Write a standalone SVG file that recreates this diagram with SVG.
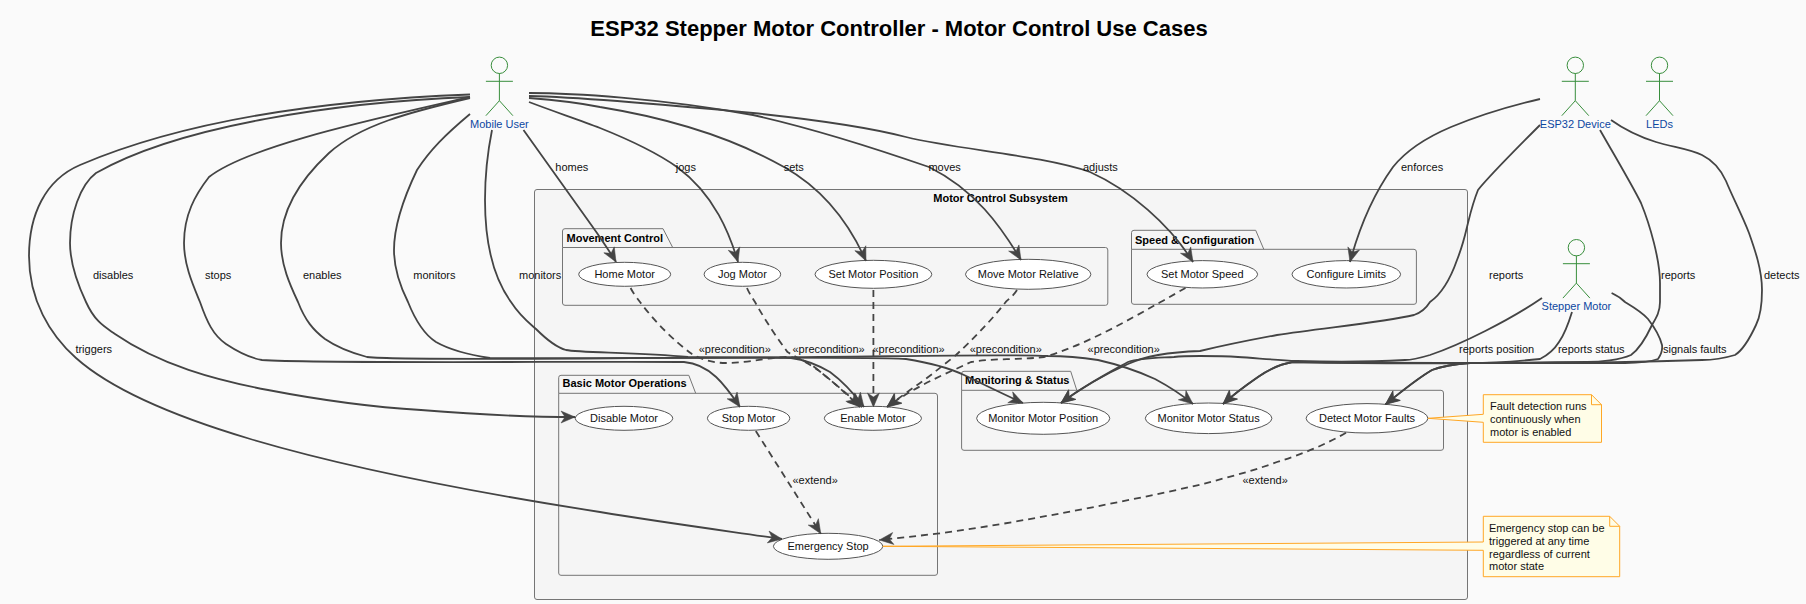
<svg xmlns="http://www.w3.org/2000/svg" width="1806" height="604" viewBox="0 0 1806 604">
<style>
text{font-family:"Liberation Sans",Arial,sans-serif;font-size:11px;fill:#111}
.title{font-size:22px;font-weight:bold;fill:#000;text-anchor:middle}
.b{font-weight:bold;fill:#000}
.m{text-anchor:middle}
.actor *{fill:none;stroke:#388e3c;stroke-width:1}
.actor .head{fill:#e8f5e9}
.actor text{fill:#0d47a1;stroke:none;text-anchor:middle}
.sys{fill:#f5f5f5;stroke:#757575;stroke-width:1}
.pkg{fill:none;stroke:#757575;stroke-width:1}
.uc ellipse{fill:#fff;stroke:#555;stroke-width:1}
.note path{fill:#fffde7;stroke:#ffa726;stroke-width:1}
.note .fold{fill:none}
.l{fill:none;stroke:#444;stroke-width:1.8;marker-end:url(#ah)}
.d{stroke-dasharray:7 5}
</style>
<defs>
<marker id="ah" markerUnits="userSpaceOnUse" markerWidth="18" markerHeight="14" refX="15" refY="7" orient="auto">
<path d="M1,1 L15,7 L1,13 L5,7 Z" fill="#444" stroke="#444" stroke-width="0.5"/>
</marker>
<g id="stick" class="stick">
<circle class="head" cx="0" cy="0" r="8.2"/>
<path d="M0,8 V35.4 M-13.5,16 H13.5 M-13.5,50.4 L0,35.4 L13.5,50.4"/>
</g>
</defs>
<rect width="1806" height="604" fill="#fafafa"/>
<text class="title" x="899" y="36">ESP32 Stepper Motor Controller - Motor Control Use Cases</text>

<g id="motor-control-subsystem">
<rect class="sys" x="534.5" y="189.5" width="933" height="410" rx="2.5"/>
<text class="b m" x="1000.5" y="202">Motor Control Subsystem</text>
</g>
<g id="movement-control">
<path class="pkg" d="M562.5,247.5 V231 Q562.5,228.7 565,228.7 H663 L672.7,247.5 M562.5,247.5 H1105.5 Q1107.8,247.5 1107.8,250 V303 Q1107.8,305.3 1105.5,305.3 H565 Q562.5,305.3 562.5,303 Z"/>
<text class="b" x="566.5" y="241.5">Movement Control</text>
</g>
<g id="speed-configuration">
<path class="pkg" d="M1131.5,249.3 V232.6 Q1131.5,230.3 1134,230.3 H1255.7 L1263.8,249.3 M1131.5,249.3 H1414 Q1416.4,249.3 1416.4,252 V302 Q1416.4,304.3 1414,304.3 H1134 Q1131.5,304.3 1131.5,302 Z"/>
<text class="b" x="1135" y="243.5">Speed &amp; Configuration</text>
</g>
<g id="basic-motor-operations">
<path class="pkg" d="M558.7,393.3 V377.6 Q558.7,375.3 561,375.3 H688.8 L695.7,393.3 M558.7,393.3 H935 Q937.5,393.3 937.5,396 V573 Q937.5,575.3 935,575.3 H561 Q558.7,575.3 558.7,573 Z"/>
<text class="b" x="562.5" y="387">Basic Motor Operations</text>
</g>
<g id="monitoring-status">
<path class="pkg" d="M961.6,390.3 V373.6 Q961.6,371.3 964,371.3 H1070.7 L1076.8,390.3 M961.6,390.3 H1441 Q1443.5,390.3 1443.5,393 V448 Q1443.5,450.3 1441,450.3 H964 Q961.6,450.3 961.6,448 Z"/>
<text class="b" x="965" y="384">Monitoring &amp; Status</text>
</g>

<g id="home-motor" class="uc"><ellipse cx="624.7" cy="274.3" rx="46" ry="12"/><text class="m" x="624.7" y="278">Home Motor</text></g>
<g id="jog-motor" class="uc"><ellipse cx="742.4" cy="274.3" rx="38.3" ry="12"/><text class="m" x="742.4" y="278">Jog Motor</text></g>
<g id="set-motor-position" class="uc"><ellipse cx="873.4" cy="274.3" rx="58.4" ry="14"/><text class="m" x="873.4" y="278">Set Motor Position</text></g>
<g id="move-motor-relative" class="uc"><ellipse cx="1028.2" cy="274.3" rx="62.7" ry="15"/><text class="m" x="1028.2" y="278">Move Motor Relative</text></g>
<g id="set-motor-speed" class="uc"><ellipse cx="1202.3" cy="274.3" rx="55.3" ry="13.7"/><text class="m" x="1202.3" y="278">Set Motor Speed</text></g>
<g id="configure-limits" class="uc"><ellipse cx="1346.3" cy="274.3" rx="54.3" ry="13.7"/><text class="m" x="1346.3" y="278">Configure Limits</text></g>
<g id="disable-motor" class="uc"><ellipse cx="624" cy="418.3" rx="48.8" ry="12"/><text class="m" x="624" y="421.5">Disable Motor</text></g>
<g id="stop-motor" class="uc"><ellipse cx="748.6" cy="418.3" rx="41.2" ry="12"/><text class="m" x="748.6" y="421.5">Stop Motor</text></g>
<g id="enable-motor" class="uc"><ellipse cx="872.9" cy="418.3" rx="48.6" ry="12"/><text class="m" x="872.9" y="421.5">Enable Motor</text></g>
<g id="emergency-stop" class="uc"><ellipse cx="828.1" cy="546.3" rx="54.7" ry="13"/><text class="m" x="828.1" y="549.5">Emergency Stop</text></g>
<g id="monitor-motor-position" class="uc"><ellipse cx="1043.2" cy="418.3" rx="66.6" ry="16"/><text class="m" x="1043.2" y="421.5">Monitor Motor Position</text></g>
<g id="monitor-motor-status" class="uc"><ellipse cx="1208.6" cy="418.3" rx="63.3" ry="15.3"/><text class="m" x="1208.6" y="421.5">Monitor Motor Status</text></g>
<g id="detect-motor-faults" class="uc"><ellipse cx="1367" cy="418.3" rx="60.9" ry="14.7"/><text class="m" x="1367" y="421.5">Detect Motor Faults</text></g>

<g id="mobile-user" class="actor"><use href="#stick" x="499.4" y="65.3"/><text x="499.4" y="128">Mobile User</text></g>
<g id="esp32-device" class="actor"><use href="#stick" x="1575.3" y="65.3"/><text x="1575.3" y="128">ESP32 Device</text></g>
<g id="leds" class="actor"><use href="#stick" x="1659.5" y="65.3"/><text x="1659.5" y="128">LEDs</text></g>
<g id="stepper-motor" class="actor"><use href="#stick" x="1576.4" y="247.7"/><text x="1576.4" y="310">Stepper Motor</text></g>

<g id="note-faults" class="note">
<path d="M1483.3,394.7 V414.3 L1428,418.3 L1483.3,422.3 V442.3 H1601.5 V404.7 L1591.5,394.7 Z"/>
<path class="fold" d="M1591.5,394.7 V404.7 H1601.5"/>
<text x="1490" y="410">Fault detection runs</text><text x="1490" y="422.7">continuously when</text><text x="1490" y="435.5">motor is enabled</text>
</g>
<g id="note-emergency" class="note">
<path d="M1483.3,516.3 V542 L882.8,546.3 L1483.3,550.3 V576.7 H1619.7 V526.3 L1609.7,516.3 Z"/>
<path class="fold" d="M1609.7,516.3 V526.3 H1619.7"/>
<text x="1489" y="532">Emergency stop can be</text><text x="1489" y="544.7">triggered at any time</text><text x="1489" y="557.5">regardless of current</text><text x="1489" y="570.3">motor state</text>
</g>

<g id="connectors">
<path class="l" d="M470,94.5 C330,100 190,118 80,165 C45,180 29,215 29,256 C29,300 50,335 76,358 C140,415 300,465 600,512 C660,522 720,530 782,539"/>
<path class="l" d="M470,97 C340,102 180,125 96,173 C80,185 70,215 70,243 C70,265 78,285 86,302 C95,322 105,327 115,334 C160,365 215,380 268,390 C320,400 370,407 421,410 C470,414 520,417 575,417"/>
<path class="l" d="M470,97 C380,118 250,145 209,177 C195,195 184,215 184,243 C184,265 193,285 200,302 C207,322 213,335 226,344 C238,352 250,358 262,360 C320,364 600,361 684,362 C710,364 725,385 740,407"/>
<path class="l" d="M470,98 C410,112 360,125 329,153 C300,180 281,210 281,243 C281,265 290,285 298,302 C305,320 313,330 325,339 C338,348 352,353 367,357 C420,362 700,356 791,358 C806,360 818,365 830,372 C845,383 855,395 864,407"/>
<path class="l" d="M470,114 C445,135 430,150 417,170 C405,195 394,225 394,250 C394,270 401,288 408,302 C416,322 425,335 436,342 C450,350 470,355 490,358 C560,359 850,356 906,359 C925,362 945,366 964,375 C985,385 1005,395 1023,403"/>
<path class="l" d="M492,130 C487,155 485,180 485,200 C485,245 495,280 511,302 C520,316 528,322 536,329 C545,338 555,347 566,350 C580,353 640,352 688,357 C800,359 1000,353 1048,356 C1070,356 1085,358 1098,360 C1120,365 1140,372 1155,379 C1170,387 1182,395 1193,404"/>
<path class="l" d="M523.5,130 L597,233 C605,245 612,255 616,262"/>
<path class="l" d="M529,102 C555,112 580,120 600,128 C635,142 660,155 677,167 C715,195 730,235 738,262"/>
<path class="l" d="M529,98 C555,100 580,103 600,107 C680,120 740,142 784,167 C825,190 850,225 866,261"/>
<path class="l" d="M529,93 C570,93 660,98 753,115 C820,130 880,150 929,167 C975,190 1000,225 1021,260"/>
<path class="l" d="M529,96 C570,97 660,104 753,113 C800,118 860,125 906,137 C960,150 1040,155 1090,172 C1130,190 1170,225 1193,262"/>
<path class="l" d="M1540,99 C1510,106 1480,115 1451,127 C1425,138 1405,152 1393,167 C1375,192 1360,225 1350,262"/>
<path class="l" d="M1540,125 C1515,150 1490,175 1478,190 C1472,205 1470,215 1467,227 C1464,240 1461,250 1457,260 C1450,280 1440,295 1430,302 C1425,310 1420,313 1414,315 C1380,323 1320,328 1277,335 C1250,340 1225,345 1200,351 C1170,352 1145,356 1128,364 C1110,372 1085,385 1061,403"/>
<path class="l" d="M1600,130 C1620,165 1632,185 1641,203 C1650,225 1660,260 1660,283 C1660,290 1660,296 1660,302 C1660,312 1656,318 1652,325 C1645,340 1638,350 1631,355 C1620,360 1600,362 1587,362 C1500,363 1380,363 1293,362 C1280,364 1268,370 1258,377 C1245,386 1233,395 1223,404"/>
<path class="l" d="M1542,298 C1510,320 1460,345 1430,355 C1420,358 1412,360 1405,360 C1370,362 1330,362 1297,361 C1275,360 1255,358 1238,357 C1225,356 1210,356 1200,356 C1190,356 1182,356 1174,357 C1155,358 1140,358 1128,362 C1110,372 1085,385 1061,403"/>
<path class="l" d="M1572,312 C1568,325 1564,335 1559,342 C1554,350 1548,355 1540,359 C1520,361 1495,363 1470,363 C1410,364 1340,363 1293,362 C1280,364 1268,370 1258,377 C1245,386 1233,395 1223,404"/>
<path class="l" d="M1611.6,293 C1618,296 1622,299 1625,302 C1635,308 1642,312 1648,319 C1655,328 1660,337 1662,345 C1663,352 1660,356 1658,359 C1650,362 1640,363 1625,363 C1580,363 1510,363 1470,363 C1455,364 1443,366 1432,370 C1415,380 1400,393 1385.5,404.3"/>
<path class="l" d="M1611,120 C1625,130 1640,137 1656,142 C1672,147 1690,149 1702,155 C1714,161 1721,170 1726,181 C1733,198 1742,215 1749,233 C1755,250 1762,270 1762,290 C1762,305 1760,317 1756,325 C1750,338 1743,350 1735,355 C1725,358 1715,360 1702,360 C1640,362 1560,363 1509,363 C1495,363 1483,363 1470,363 C1455,364 1443,366 1432,370 C1415,380 1400,393 1385.5,404.3"/>

<path class="l d" d="M630.6,288 C633,293 637,298 640,302 C655,322 675,342 692,354 C702,360 714,363 726,363 C750,363 775,356 791,357 C802,359 810,363 818,370 C832,381 848,395 860,407"/>
<path class="l d" d="M747,288 C749,293 752,297 755,302 C765,320 777,338 787.5,352 C797,358 808,363 818,370 C832,381 848,395 862,407"/>
<path class="l d" d="M873.4,290 V407"/>
<path class="l d" d="M1017,290 C1014,295 1010,298 1005.7,302 C990,322 972,340 956,355 C940,368 925,380 910,390 C902,396 895,401 887,407"/>
<path class="l d" d="M1185.5,288 C1178,292 1170,297 1160.6,302 C1125,322 1085,345 1044,357 C1020,360 995,358 971,362 C950,372 925,382 902,397 C897,400 892,403 887,407"/>
<path class="l d" d="M755.8,431 L820.8,533.7"/>
<path class="l d" d="M1346,432.7 C1325,445 1300,455 1277,462 C1250,472 1225,478 1200,484.7 C1155,495 1105,505 1059,513.7 C1020,521 980,528 937,533.7 C917,536 898,538 879.4,540"/>

<text x="93" y="279">disables</text>
<text x="205" y="279">stops</text>
<text x="303" y="279">enables</text>
<text x="413.3" y="279">monitors</text>
<text x="519" y="279">monitors</text>
<text x="555.3" y="171">homes</text>
<text x="675.8" y="171">jogs</text>
<text x="783.7" y="171">sets</text>
<text x="928.4" y="171">moves</text>
<text x="1083" y="171">adjusts</text>
<text x="1401" y="171">enforces</text>
<text x="1489" y="279">reports</text>
<text x="1661" y="279">reports</text>
<text x="1764" y="279">detects</text>
<text x="75.4" y="353">triggers</text>
<text x="698.7" y="353">«precondition»</text>
<text x="792.5" y="353">«precondition»</text>
<text x="872.5" y="353">«precondition»</text>
<text x="969.7" y="353">«precondition»</text>
<text x="1087.6" y="353">«precondition»</text>
<text x="1459" y="353">reports position</text>
<text x="1557.9" y="353">reports status</text>
<text x="1663" y="353">signals faults</text>
<text x="792.5" y="484">«extend»</text>
<text x="1242.5" y="484">«extend»</text>
</g>
</svg>
